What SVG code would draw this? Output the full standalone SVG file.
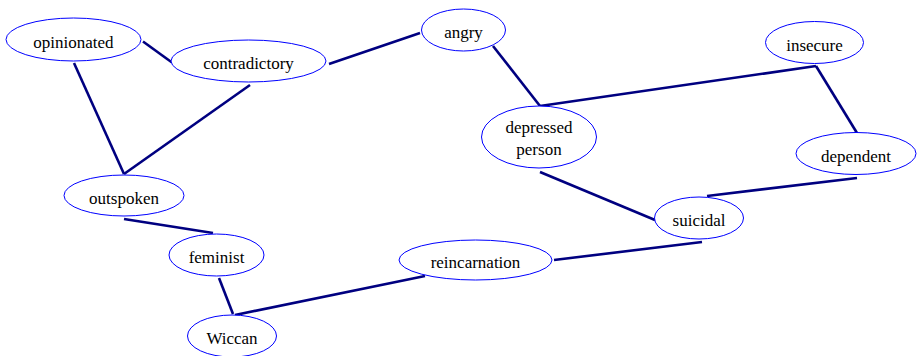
<svg xmlns="http://www.w3.org/2000/svg" width="921" height="356" viewBox="0 0 921 356">
<style>
.n ellipse{fill:#fff;stroke:#0000ff;stroke-width:1}
.n text{font-family:"Liberation Serif","Times New Roman",serif;font-size:17px;fill:#000;text-anchor:middle}
.e line{stroke:#000080;stroke-width:2.6;stroke-linecap:butt}
</style>
<rect width="921" height="356" fill="#fff"/>
<g class="e" id="connectors">
<line x1="143" y1="41.5" x2="172" y2="62.5"/>
<line x1="329" y1="64" x2="420" y2="33"/>
<line x1="250" y1="85" x2="124" y2="174"/>
<line x1="74" y1="63" x2="124" y2="174"/>
<line x1="493" y1="46" x2="540" y2="106"/>
<line x1="540" y1="106" x2="816" y2="66"/>
<line x1="816" y1="66" x2="857" y2="133"/>
<line x1="540" y1="172" x2="655" y2="220"/>
<line x1="707" y1="196" x2="857" y2="178"/>
<line x1="702" y1="242" x2="554" y2="260"/>
<line x1="425" y1="276" x2="235" y2="315"/>
<line x1="124" y1="219" x2="213" y2="233"/>
<line x1="219" y1="278" x2="233" y2="314"/>
</g>
<g class="n" id="opinionated"><ellipse cx="73.5" cy="39.5" rx="67.5" ry="21.5"/><text x="73.5" y="47.5">opinionated</text></g>
<g class="n" id="contradictory"><ellipse cx="248.5" cy="61" rx="77.5" ry="21"/><text x="248.5" y="69">contradictory</text></g>
<g class="n" id="angry"><ellipse cx="463.5" cy="30" rx="42" ry="21"/><text x="463.5" y="38">angry</text></g>
<g class="n" id="insecure"><ellipse cx="814.5" cy="42.5" rx="49" ry="21"/><text x="814.5" y="50.5">insecure</text></g>
<g class="n" id="depressed-person"><ellipse cx="539" cy="137" rx="57.5" ry="31"/><text x="539" y="133">depressed</text><text x="539" y="155">person</text></g>
<g class="n" id="dependent"><ellipse cx="856" cy="153.5" rx="60" ry="21"/><text x="856" y="161.5">dependent</text></g>
<g class="n" id="outspoken"><ellipse cx="124" cy="195.5" rx="60" ry="20.5"/><text x="124" y="203.5">outspoken</text></g>
<g class="n" id="feminist"><ellipse cx="216.5" cy="255" rx="47.5" ry="21"/><text x="216.5" y="263">feminist</text></g>
<g class="n" id="wiccan"><ellipse cx="232" cy="336" rx="44.5" ry="21"/><text x="232" y="344">Wiccan</text></g>
<g class="n" id="suicidal"><ellipse cx="699" cy="218" rx="44.5" ry="21"/><text x="699" y="226">suicidal</text></g>
<g class="n" id="reincarnation"><ellipse cx="475.5" cy="260" rx="76.5" ry="20"/><text x="475.5" y="268">reincarnation</text></g>
</svg>
